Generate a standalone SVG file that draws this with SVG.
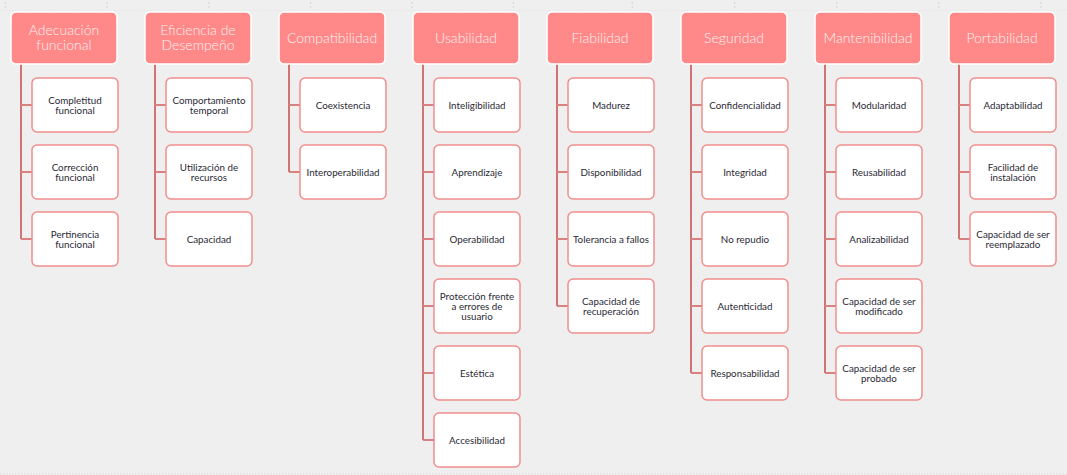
<svg xmlns="http://www.w3.org/2000/svg" width="1067" height="475" viewBox="0 0 1067 475">
<style>
.hd{fill:#FF8888;stroke:#ffffff;stroke-width:1.5}
.ht{font-family:Lato,"Open Sans",sans-serif;font-size:14px;font-weight:300;fill:#fff3f3;text-anchor:middle}
.ch{fill:#ffffff;stroke:#F28E8E;stroke-width:1.5}
.ct{font-family:Lato,"Open Sans",sans-serif;font-size:9.8px;fill:#2a2a35;text-anchor:middle}
.ln{stroke:#D07373;stroke-width:2;fill:none}
.st{stroke:#D98080;stroke-width:2;fill:none}
.grid{stroke:#dcdcdc;stroke-width:1;stroke-dasharray:1.5 1.5;fill:none}
</style>
<rect x="0" y="0" width="1067" height="475" fill="#EFEFEF"/>
<g id="grid">
<line class="grid" x1="0" y1="10.5" x2="1067" y2="10.5" style="stroke:#e6e6e6"/>
<line class="grid" x1="0" y1="474" x2="1067" y2="474"/>
<path class="grid" style="stroke-width:1.5;stroke-dasharray:2 2" d="M5.5 2V9M107 2V9M208.7 2V9M310.5 2V9M412 2V9M513.5 2V9M632.3 2V9M734.7 2V9M836.7 2V9M938.7 2V9M1040.7 2V9"/>
</g>
<g id="connectors">
<path class="ln" d="M21 64V239"/>
<path class="st" d="M21 105H32M21 172H32M21 239H32"/>
<path class="ln" d="M155 64V239"/>
<path class="st" d="M155 105H166M155 172H166M155 239H166"/>
<path class="ln" d="M289 64V172"/>
<path class="st" d="M289 105H300M289 172H300"/>
<path class="ln" d="M423 64V440"/>
<path class="st" d="M423 105H434M423 172H434M423 239H434M423 306H434M423 373H434M423 440H434"/>
<path class="ln" d="M557 64V306"/>
<path class="st" d="M557 105H568M557 172H568M557 239H568M557 306H568"/>
<path class="ln" d="M691 64V373"/>
<path class="st" d="M691 105H702M691 172H702M691 239H702M691 306H702M691 373H702"/>
<path class="ln" d="M825 64V373"/>
<path class="st" d="M825 105H836M825 172H836M825 239H836M825 306H836M825 373H836"/>
<path class="ln" d="M959 64V239"/>
<path class="st" d="M959 105H970M959 172H970M959 239H970"/>
</g>
<g id="h1"><rect class="hd" x="11" y="12" width="106" height="52" rx="5"/><text class="ht" x="64" y="35">Adecuación</text><text class="ht" x="64" y="50">funcional</text></g>
<g id="h2"><rect class="hd" x="145" y="12" width="106" height="52" rx="5"/><text class="ht" x="198" y="35">Eficiencia de</text><text class="ht" x="198" y="50">Desempeño</text></g>
<g id="h3"><rect class="hd" x="279" y="12" width="106" height="52" rx="5"/><text class="ht" x="332" y="43">Compatibilidad</text></g>
<g id="h4"><rect class="hd" x="413" y="12" width="106" height="52" rx="5"/><text class="ht" x="466" y="43">Usabilidad</text></g>
<g id="h5"><rect class="hd" x="547" y="12" width="106" height="52" rx="5"/><text class="ht" x="600" y="43">Fiabilidad</text></g>
<g id="h6"><rect class="hd" x="681" y="12" width="106" height="52" rx="5"/><text class="ht" x="734" y="43">Seguridad</text></g>
<g id="h7"><rect class="hd" x="815" y="12" width="106" height="52" rx="5"/><text class="ht" x="868" y="43">Mantenibilidad</text></g>
<g id="h8"><rect class="hd" x="949" y="12" width="106" height="52" rx="5"/><text class="ht" x="1002" y="43">Portabilidad</text></g>

<g id="c1a"><rect class="ch" x="32" y="78" width="86" height="54" rx="5"/><text class="ct" x="75" y="103.5">Completitud</text><text class="ct" x="75" y="113.5">funcional</text></g>
<g id="c1b"><rect class="ch" x="32" y="145" width="86" height="54" rx="5"/><text class="ct" x="75" y="170.5">Corrección</text><text class="ct" x="75" y="180.5">funcional</text></g>
<g id="c1c"><rect class="ch" x="32" y="212" width="86" height="54" rx="5"/><text class="ct" x="75" y="237.5">Pertinencia</text><text class="ct" x="75" y="247.5">funcional</text></g>

<g id="c2a"><rect class="ch" x="166" y="78" width="86" height="54" rx="5"/><text class="ct" x="209" y="103.5">Comportamiento</text><text class="ct" x="209" y="113.5">temporal</text></g>
<g id="c2b"><rect class="ch" x="166" y="145" width="86" height="54" rx="5"/><text class="ct" x="209" y="170.5">Utilización de</text><text class="ct" x="209" y="180.5">recursos</text></g>
<g id="c2c"><rect class="ch" x="166" y="212" width="86" height="54" rx="5"/><text class="ct" x="209" y="242.5">Capacidad</text></g>

<g id="c3a"><rect class="ch" x="300" y="78" width="86" height="54" rx="5"/><text class="ct" x="343" y="108.5">Coexistencia</text></g>
<g id="c3b"><rect class="ch" x="300" y="145" width="86" height="54" rx="5"/><text class="ct" x="343" y="175.5">Interoperabilidad</text></g>

<g id="c4a"><rect class="ch" x="434" y="78" width="86" height="54" rx="5"/><text class="ct" x="477" y="108.5">Inteligibilidad</text></g>
<g id="c4b"><rect class="ch" x="434" y="145" width="86" height="54" rx="5"/><text class="ct" x="477" y="175.5">Aprendizaje</text></g>
<g id="c4c"><rect class="ch" x="434" y="212" width="86" height="54" rx="5"/><text class="ct" x="477" y="242.5">Operabilidad</text></g>
<g id="c4d"><rect class="ch" x="434" y="279" width="86" height="54" rx="5"/><text class="ct" x="477" y="299.5">Protección frente</text><text class="ct" x="477" y="309.5">a errores de</text><text class="ct" x="477" y="319.5">usuario</text></g>
<g id="c4e"><rect class="ch" x="434" y="346" width="86" height="54" rx="5"/><text class="ct" x="477" y="376.5">Estética</text></g>
<g id="c4f"><rect class="ch" x="434" y="413" width="86" height="54" rx="5"/><text class="ct" x="477" y="443.5">Accesibilidad</text></g>

<g id="c5a"><rect class="ch" x="568" y="78" width="86" height="54" rx="5"/><text class="ct" x="611" y="108.5">Madurez</text></g>
<g id="c5b"><rect class="ch" x="568" y="145" width="86" height="54" rx="5"/><text class="ct" x="611" y="175.5">Disponibilidad</text></g>
<g id="c5c"><rect class="ch" x="568" y="212" width="86" height="54" rx="5"/><text class="ct" x="611" y="242.5">Tolerancia a fallos</text></g>
<g id="c5d"><rect class="ch" x="568" y="279" width="86" height="54" rx="5"/><text class="ct" x="611" y="304.5">Capacidad de</text><text class="ct" x="611" y="314.5">recuperación</text></g>

<g id="c6a"><rect class="ch" x="702" y="78" width="86" height="54" rx="5"/><text class="ct" x="745" y="108.5">Confidencialidad</text></g>
<g id="c6b"><rect class="ch" x="702" y="145" width="86" height="54" rx="5"/><text class="ct" x="745" y="175.5">Integridad</text></g>
<g id="c6c"><rect class="ch" x="702" y="212" width="86" height="54" rx="5"/><text class="ct" x="745" y="242.5">No repudio</text></g>
<g id="c6d"><rect class="ch" x="702" y="279" width="86" height="54" rx="5"/><text class="ct" x="745" y="309.5">Autenticidad</text></g>
<g id="c6e"><rect class="ch" x="702" y="346" width="86" height="54" rx="5"/><text class="ct" x="745" y="376.5">Responsabilidad</text></g>

<g id="c7a"><rect class="ch" x="836" y="78" width="86" height="54" rx="5"/><text class="ct" x="879" y="108.5">Modularidad</text></g>
<g id="c7b"><rect class="ch" x="836" y="145" width="86" height="54" rx="5"/><text class="ct" x="879" y="175.5">Reusabilidad</text></g>
<g id="c7c"><rect class="ch" x="836" y="212" width="86" height="54" rx="5"/><text class="ct" x="879" y="242.5">Analizabilidad</text></g>
<g id="c7d"><rect class="ch" x="836" y="279" width="86" height="54" rx="5"/><text class="ct" x="879" y="304.5">Capacidad de ser</text><text class="ct" x="879" y="314.5">modificado</text></g>
<g id="c7e"><rect class="ch" x="836" y="346" width="86" height="54" rx="5"/><text class="ct" x="879" y="371.5">Capacidad de ser</text><text class="ct" x="879" y="381.5">probado</text></g>

<g id="c8a"><rect class="ch" x="970" y="78" width="86" height="54" rx="5"/><text class="ct" x="1013" y="108.5">Adaptabilidad</text></g>
<g id="c8b"><rect class="ch" x="970" y="145" width="86" height="54" rx="5"/><text class="ct" x="1013" y="170.5">Facilidad de</text><text class="ct" x="1013" y="180.5">instalación</text></g>
<g id="c8c"><rect class="ch" x="970" y="212" width="86" height="54" rx="5"/><text class="ct" x="1013" y="237.5">Capacidad de ser</text><text class="ct" x="1013" y="247.5">reemplazado</text></g>
</svg>
